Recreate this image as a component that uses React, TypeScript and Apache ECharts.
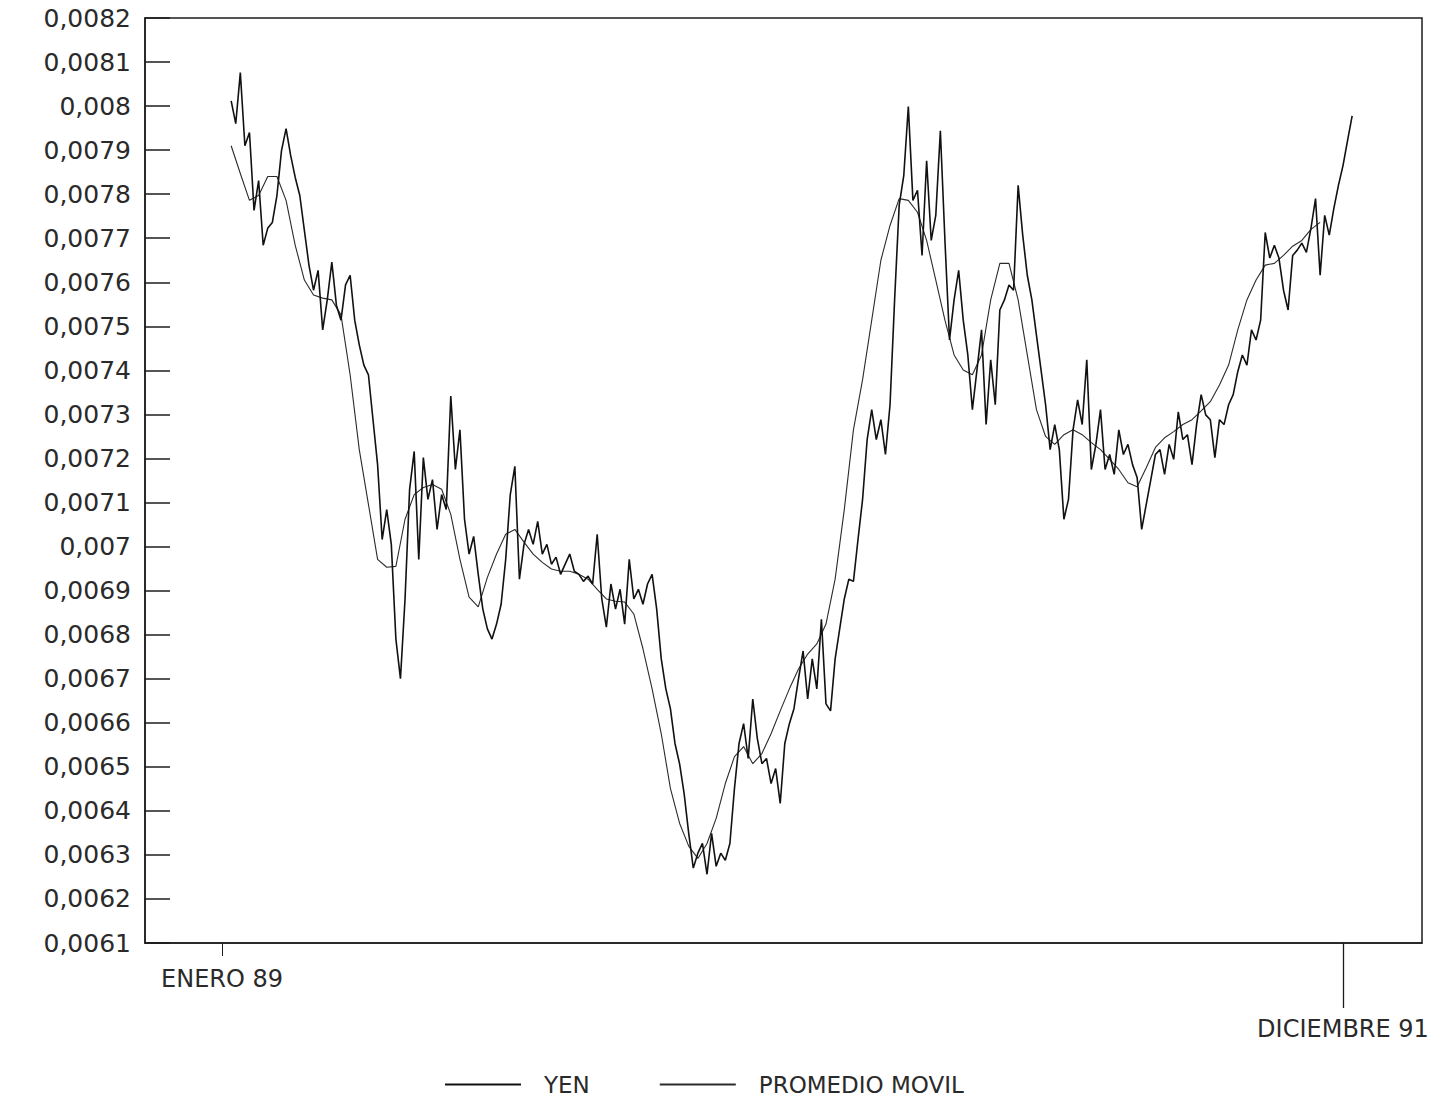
import React, { useEffect, useRef } from 'react';
import * as echarts from 'echarts';

// x unit: trading day counted from ENERO 89 (21 trading days per month)
const yenStartDay = 6;
const yenStepDays = 3;
const maStartDay = 6;
const maStepDays = 6;

const seriesNames = ['YEN', 'PROMEDIO MOVIL'];

const yenValues = [
  0.008012, 0.007960, 0.008076, 0.007910, 0.007940, 0.007763, 0.007831, 0.007684, 0.007723, 0.007736,
  0.007797, 0.007899, 0.007949, 0.007888, 0.007838, 0.007797, 0.007718, 0.007639, 0.007582, 0.007627,
  0.007492, 0.007560, 0.007646, 0.007548, 0.007514, 0.007594, 0.007616, 0.007514, 0.007458, 0.007412,
  0.007390, 0.007288, 0.007186, 0.007016, 0.007084, 0.007005, 0.006790, 0.006700, 0.006881, 0.007130,
  0.007216, 0.006971, 0.007202, 0.007107, 0.007152, 0.007039, 0.007118, 0.007084, 0.007342, 0.007175,
  0.007265, 0.007062, 0.006983, 0.007023, 0.006937, 0.006858, 0.006813, 0.006790, 0.006824, 0.006869,
  0.006971, 0.007118, 0.007182, 0.006926, 0.007005, 0.007039, 0.007005, 0.007057, 0.006983, 0.007005,
  0.006960, 0.006976, 0.006937, 0.006960, 0.006983, 0.006944, 0.006937, 0.006921, 0.006933, 0.006915,
  0.007028, 0.006881, 0.006817, 0.006915, 0.006858, 0.006903, 0.006824, 0.006971, 0.006881, 0.006903,
  0.006869, 0.006915, 0.006937, 0.006858, 0.006745, 0.006677, 0.006632, 0.006553, 0.006507, 0.006439,
  0.006349, 0.006270, 0.006304, 0.006326, 0.006256, 0.006349, 0.006274, 0.006304, 0.006288, 0.006326,
  0.006451, 0.006553, 0.006598, 0.006519, 0.006654, 0.006564, 0.006507, 0.006519, 0.006462, 0.006496,
  0.006417, 0.006553, 0.006598, 0.006632, 0.006700, 0.006763, 0.006654, 0.006745, 0.006677, 0.006835,
  0.006643, 0.006627, 0.006745, 0.006813, 0.006881, 0.006926, 0.006921, 0.007016, 0.007107, 0.007243,
  0.007311, 0.007243, 0.007288, 0.007209, 0.007322, 0.007560, 0.007775, 0.007842, 0.007999, 0.007786,
  0.007809, 0.007661, 0.007876, 0.007695, 0.007752, 0.007944, 0.007695, 0.007469, 0.007560, 0.007627,
  0.007514, 0.007435, 0.007311, 0.007401, 0.007492, 0.007277, 0.007424, 0.007322, 0.007537, 0.007560,
  0.007594, 0.007582, 0.007820, 0.007707, 0.007616, 0.007560, 0.007480, 0.007401, 0.007322, 0.007220,
  0.007277, 0.007220, 0.007062, 0.007107, 0.007265, 0.007333, 0.007277, 0.007424, 0.007175, 0.007232,
  0.007311, 0.007175, 0.007209, 0.007164, 0.007265, 0.007209, 0.007232, 0.007186, 0.007157, 0.007039,
  0.007096, 0.007152, 0.007209, 0.007220, 0.007164, 0.007232, 0.007198, 0.007306, 0.007243, 0.007254,
  0.007186, 0.007277, 0.007345, 0.007299, 0.007288, 0.007202, 0.007288, 0.007277, 0.007322, 0.007345,
  0.007397, 0.007435, 0.007412, 0.007492, 0.007469, 0.007514, 0.007713, 0.007655, 0.007684, 0.007655,
  0.007582, 0.007537, 0.007661, 0.007673, 0.007689, 0.007668, 0.007723, 0.007790, 0.007616, 0.007752,
  0.007707, 0.007768, 0.007820, 0.007865, 0.007922, 0.007978,
];

const maValues = [
  0.007910, 0.007847, 0.007786, 0.007797, 0.007840, 0.007840, 0.007786, 0.007684, 0.007605, 0.007571,
  0.007564, 0.007560, 0.007526, 0.007390, 0.007220, 0.007096, 0.006971, 0.006953, 0.006955, 0.007062,
  0.007118, 0.007134, 0.007141, 0.007130, 0.007073, 0.006971, 0.006885, 0.006863, 0.006930, 0.006983,
  0.007028, 0.007039, 0.007010, 0.006983, 0.006964, 0.006949, 0.006944, 0.006944, 0.006937, 0.006926,
  0.006903, 0.006881, 0.006876, 0.006874, 0.006847, 0.006768, 0.006677, 0.006575, 0.006451, 0.006372,
  0.006320, 0.006292, 0.006326, 0.006383, 0.006462, 0.006523, 0.006546, 0.006507, 0.006530, 0.006575,
  0.006627, 0.006677, 0.006722, 0.006756, 0.006779, 0.006824, 0.006926, 0.007084, 0.007265, 0.007379,
  0.007514, 0.007650, 0.007729, 0.007790, 0.007786, 0.007759, 0.007695, 0.007605, 0.007514, 0.007435,
  0.007401, 0.007390, 0.007435, 0.007560, 0.007643, 0.007643, 0.007560, 0.007435, 0.007311, 0.007250,
  0.007232, 0.007254, 0.007265, 0.007254, 0.007236, 0.007220, 0.007198, 0.007175, 0.007145, 0.007136,
  0.007179, 0.007225, 0.007247, 0.007261, 0.007277, 0.007288, 0.007308, 0.007329, 0.007367, 0.007412,
  0.007492, 0.007560, 0.007605, 0.007639, 0.007643, 0.007661, 0.007682, 0.007695, 0.007720, 0.007736,
];

const xTickValues = [0, 735];
const xTickLabels = ['ENERO 89', 'DICIEMBRE 91'];
const xMin = -50.5;
const xMax = 786.8;

const yMin = 0.0061;
const yMax = 0.0082;
const yStep = 0.0001;

export default function App() {
  const ref = useRef<HTMLDivElement>(null);

  useEffect(() => {
    if (!ref.current) return;
    const chart = echarts.init(ref.current, null, { renderer: 'svg' });
    const font = 'DejaVu Sans';
    const ink = '#1c1c1c';
    const textInk = '#2a2a2a';
    const axisLineStyle = { color: ink, width: 1.5 };
    const xLabel = (v: number) => {
      const k = xTickValues.indexOf(v);
      return k >= 0 ? xTickLabels[k] : '';
    };

    chart.setOption({
      animation: false,
      backgroundColor: '#ffffff',
      grid: {
        left: 145,
        right: 26,
        top: 18,
        bottom: 161,
        show: true,
        borderColor: ink,
        borderWidth: 1.5,
        backgroundColor: 'transparent',
      },
      legend: {
        data: seriesNames,
        left: 440,
        top: 1068,
        icon: 'rect',
        itemWidth: 76,
        itemHeight: 2,
        itemGap: 70,
        textStyle: { fontFamily: font, fontSize: 23, color: textInk, padding: [0, 0, 0, 18] },
      },
      xAxis: [
        {
          type: 'value',
          min: xMin,
          max: xMax,
          position: 'bottom',
          axisLine: { show: true, onZero: false, lineStyle: axisLineStyle },
          axisTick: { show: true, customValues: [xTickValues[0]], length: 13, lineStyle: { color: ink, width: 1 } },
          axisLabel: {
            customValues: [xTickValues[0]],
            formatter: xLabel,
            margin: 24,
            color: textInk,
            fontFamily: font,
            fontSize: 24,
          },
          splitLine: { show: false },
        },
        {
          type: 'value',
          min: xMin,
          max: xMax,
          position: 'bottom',
          axisLine: { show: false, onZero: false },
          axisTick: { show: true, customValues: [xTickValues[1]], length: 65, lineStyle: { color: ink, width: 1.3 } },
          axisLabel: {
            customValues: [xTickValues[1]],
            formatter: xLabel,
            margin: 74,
            color: textInk,
            fontFamily: font,
            fontSize: 24,
          },
          splitLine: { show: false },
        },
      ],
      yAxis: {
        type: 'value',
        min: yMin,
        max: yMax,
        interval: yStep,
        position: 'left',
        axisLine: { show: true, onZero: false, lineStyle: axisLineStyle },
        axisTick: { show: true, inside: true, length: 25, lineStyle: { color: ink, width: 1.5 } },
        axisLabel: {
          margin: 14,
          color: textInk,
          fontFamily: font,
          fontSize: 25,
          padding: [6, 0, 0, 0],
          formatter: (v: number) => String(parseFloat(v.toFixed(5))).replace('.', ','),
        },
        splitLine: { show: false },
      },
      series: [
        {
          name: seriesNames[0],
          type: 'line',
          xAxisIndex: 0,
          symbol: 'none',
          data: yenValues.map((v, i) => [yenStartDay + i * yenStepDays, v]),
          lineStyle: { color: '#111111', width: 1.6 },
          itemStyle: { color: '#111111' },
          z: 3,
        },
        {
          name: seriesNames[1],
          type: 'line',
          xAxisIndex: 0,
          symbol: 'none',
          data: maValues.map((v, i) => [maStartDay + i * maStepDays, v]),
          lineStyle: { color: '#2b2b2b', width: 1.1 },
          itemStyle: { color: '#2b2b2b' },
          z: 2,
        },
      ],
    });

    return () => chart.dispose();
  }, []);

  return (
    <div
      ref={ref}
      style={{ position: 'fixed', left: 0, top: 0, width: 1448, height: 1104, background: '#fff' }}
    />
  );
}
